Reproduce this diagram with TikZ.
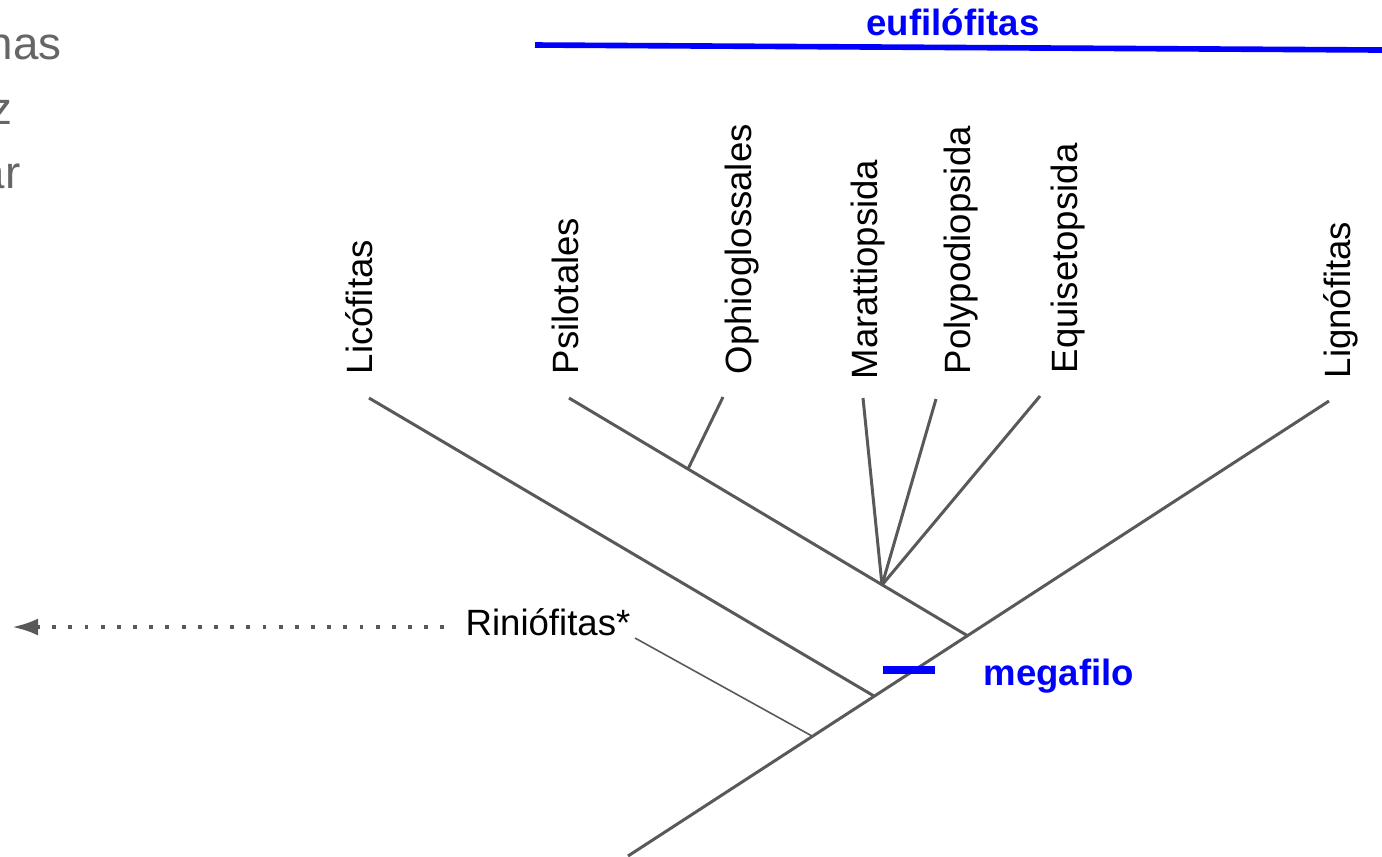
\documentclass[tikz,border=0pt]{standalone}
\usepackage{fontspec}
\setmainfont{Liberation Sans}
\usetikzlibrary{arrows.meta}

\begin{document}
\begin{tikzpicture}[x=0.01cm,y=-0.01cm,
	branch/.style={draw=black!65, line width=0.85pt},
	taxon/.style={rotate=90, anchor=base west, inner sep=0pt, font=\fontsize{10.4}{12}\selectfont},
	clado/.style={text=blue, inner sep=0pt, font=\bfseries\fontsize{10.4}{12}\selectfont}]
			\useasboundingbox (0,0) rectangle (1382,856);
			\clip (0,0) rectangle (1382,856);

			% text cut off at the left border
			\node[anchor=base east, text=black!60, inner sep=0pt, font=\fontsize{13}{15}\selectfont] (w0) at (62,59) {nas};
			\node[anchor=base east, text=black!60, inner sep=0pt, font=\fontsize{13}{15}\selectfont] (w1) at (13,124) {z};
			\node[anchor=base east, text=black!60, inner sep=0pt, font=\fontsize{13}{15}\selectfont] (w2) at (21,188) {ar};

			\foreach \n/\x/\y/\t in {lic/372/375/Licófitas, psi/578/375/Psilotales, oph/751/375/Ophioglossales, mar/877/380/Marattiopsida, pol/970/375/Polypodiopsida, equ/1077/374/Equisetopsida, lig/1350/379/Lignófitas} {
				\node[taxon] (l_\n) at (\x,\y) {\t};
			}

			\foreach \n/\x/\y in {lic/369/398, psi/569/398, oph/723/397, mar/863/398, pol/936/399, equ/1040/396, lig/1329/401, rin/635/638} {
				\coordinate (t_\n) at (\x,\y);
			}

			\coordinate (root) at (628,856);
			\coordinate (n_rin) at (812,736);
			\coordinate (n_lic) at (874,696);
			\coordinate (n_euf) at (968,636);
			\coordinate (n_fern) at (882,585);
			\coordinate (n_oph) at (688,469);

			\draw[branch] (root) -- (t_lig);
			\draw[branch] (n_lic) -- (t_lic);
			\draw[branch] (n_euf) -- (t_psi);
			\draw[branch] (n_oph) -- (t_oph);
			\draw[branch] (n_fern) -- (t_mar);
			\draw[branch] (n_fern) -- (t_pol);
			\draw[branch] (n_fern) -- (t_equ);
			\draw[draw=black!65, line width=0.45pt] (n_rin) -- (t_rin);

			\node[anchor=base, inner sep=0pt, font=\fontsize{10.4}{12}\selectfont] (rin) at (548,635) {Riniófitas*};
			\coordinate (far) at (12,627);
			\draw[black!65, line width=1.1pt, dash pattern=on 1.1pt off 3.5pt, {Latex[length=0.26cm, width=0.17cm]}-] (far) -- ([xshift=-0.18cm]rin.west |- far);

			\node[clado, anchor=base west] (mega) at (983,685) {megafilo};
			\draw[blue, line width=2.4pt] (883,670) coordinate (m0) -- (935,670) coordinate (m1);

			\node[clado] (euf) at (953,22) {eufilófitas};
			\coordinate (e0) at (535,45);
			\coordinate (e1) at (1382,50);
			\draw[blue, line width=1.6pt] (e0) -- (e1);
\end{tikzpicture}
\end{document}
